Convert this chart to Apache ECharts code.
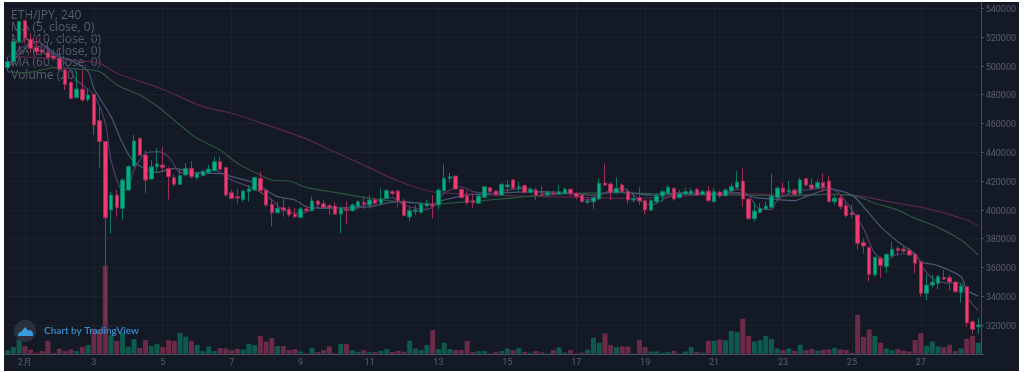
<!DOCTYPE html>
<html>
<head>
<meta charset="utf-8">
<script src="https://cdn.jsdelivr.net/npm/echarts@6/dist/echarts.min.js"></script>
<style>
  html, body { margin: 0; background: #fff; }
  #chart { position: absolute; left: 4px; top: 2px; width: 1015px; height: 369px; }
</style>
</head>
<body>
<div id="chart"></div>
<script>
// 4h bars, [open, close, low, high]
const ohlc = [
  [498700,502900,496600,506300],[502900,516800,499400,519100],[516800,530700,515600,531300],[531300,519100,515600,531800],
  [518400,512100,508700,522500],[512600,509800,507500,520200],[511000,509400,507500,515600],[509400,505700,504500,515600],
  [506800,505200,502900,511000],[505200,497500,496600,512100],[497100,487100,483200,498200],[488500,477200,476900,489000],
  [477900,483900,477400,495900],[483700,476300,475100,497100],[476700,479700,475100,484400],[480200,458900,451900,480200],
  [461900,447500,429200,471600],[447500,394500,321100,447500],[399800,410200,383600,412500],[410200,401400,395200,413700],
  [401000,420700,393300,422000],[413700,429900,413000,431000],[430400,447800,429900,451900],[449600,438000,437500,450000],
  [438000,420700,411700,441500],[421400,429900,420700,434600],[429900,431800,426500,442700],[431100,429500,427600,443800],
  [428600,423000,407200,429900],[422300,417700,416100,424200],[417700,423700,417200,428800],[424200,428800,423000,432300],
  [428800,423000,421800,433900],[422300,425300,420700,426500],[423700,426700,423000,427500],[426000,428300,425300,431100],
  [427200,433400,426500,436900],[433400,428100,427600,436900],[429300,410200,409100,430000],[411800,407900,407400,414000],
  [409100,408100,404400,414500],[407200,413000,405600,414000],[412500,414500,405600,417000],[413700,422300,413000,423000],
  [421800,413300,411400,426500],[413700,403300,402000,414200],[403800,398000,388700,407900],[398000,401000,397500,405600],
  [401400,399800,395200,407900],[400300,396400,395200,402100],[397000,395200,394000,401000],[394700,400500,394000,402100],
  [400500,399400,398200,402100],[399400,406100,398700,409100],[406100,403800,401700,406800],[404200,401700,401000,406800],
  [402800,401400,396400,403800],[402600,397000,396400,405200],[397000,401000,383600,402100],[400300,399400,390100,406100],
  [399400,403300,398700,404500],[402100,405600,401700,406800],[405200,404000,400300,409100],[403300,406800,401000,410200],
  [406800,404500,403300,408400],[404500,407500,403300,414900],[407900,413300,407500,414200],[412600,411400,410200,413700],
  [413000,406100,401700,413700],[406100,395900,395700,407900],[395000,399400,392200,402100],[398900,399800,396400,403300],
  [398200,403800,397500,405600],[402600,404500,402100,406800],[404000,402600,394000,410200],[403300,413700,400300,414900],
  [413300,421800,412600,431500],[421800,423000,418800,425800],[423400,414400,414200,423400],[414200,408400,407900,414900],
  [409600,404900,403300,413300],[406300,404900,401400,411400],[404500,409600,404000,411400],[408600,416000,408200,416500],
  [415300,412600,412100,415800],[413000,410200,409800,413700],[410200,417700,409800,418400],[416000,417200,411400,420700],
  [420700,414900,414200,421100],[414900,416000,412600,419500],[416700,412100,411400,417700],[412100,414200,411400,415600],
  [413700,410200,406800,415300],[410900,410200,409800,416500],[410200,412100,409800,413300],[411600,410900,410200,413300],
  [410900,412600,410200,417200],[411400,414200,410900,415600],[414200,411400,409600,414900],[411400,409100,407200,412600],
  [410200,405600,405200,411400],[405200,406100,403800,409100],[405600,408400,400300,410200],[407500,418400,406800,421800],
  [418600,417200,416500,432200],[417900,412100,406800,419000],[411900,414900,411400,422300],[417200,412600,411900,418400],
  [412800,406800,404000,414900],[406800,407700,404900,411400],[408400,406100,403300,415600],[406300,399800,397000,407200],
  [399800,406300,399100,407200],[405600,409800,404500,411400],[409600,412600,405600,413700],[411400,415600,410700,417200],
  [414900,407500,406300,415300],[408400,411200,407900,413700],[410900,412600,410700,415300],[411200,413000,410200,414900],
  [414000,410200,409800,415300],[410700,412600,410200,413700],[413000,406300,405600,416500],[405600,412600,405200,415300],
  [412300,409600,408400,413300],[409800,413700,409100,414900],[413000,416000,412600,418400],[415300,419300,414900,426900],
  [420000,407500,402100,428800],[407500,393800,393300,407900],[393800,399100,391700,405200],[398200,401000,397500,404500],
  [400500,402600,399800,405600],[401700,409600,401000,424800],[408400,415100,405600,416000],[415100,412100,410200,418800],
  [412600,413700,411400,420200],[413700,410700,410200,414900],[411400,420700,410200,422300],[421600,417200,416000,421800],
  [417200,414900,413700,421800],[415300,418800,414200,421100],[418800,415600,412600,425300],[420000,405600,405200,423400],
  [405600,408000,403300,410200],[408200,402100,400300,410200],[402800,395900,394500,405600],[398000,396600,394500,403300],
  [396400,376700,372500,396800],[377400,374800,369700,380200],[373900,355200,350100,374400],[354900,367000,353500,367400],
  [366300,361400,352800,367400],[360500,369000,356300,369700],[368100,372500,367000,377800],[373000,371800,367900,374800],
  [372700,371400,369700,374400],[371800,368600,367900,373700],[369300,362800,355800,369700],[363700,342000,339600,363700],
  [342000,347700,337300,355200],[347700,349800,346100,354700],[348900,353500,345000,354700],[353100,351900,351200,358200],
  [352800,349800,343800,354700],[349800,343100,342600,350800],[342400,347000,335500,348900],[346600,321600,318800,347000],
  [322300,317000,313700,323400],[318800,320000,313700,324600]
];

const volumes = [
  37,67,140,77,43,10,27,130,10,50,27,43,27,67,87,250,240,880,190,127,210,70,147,60,137,77,97,67,137,130,
  210,170,130,87,27,73,27,57,53,37,50,43,100,87,180,123,157,77,77,37,47,23,5,60,17,37,73,5,100,97,
  37,20,37,17,17,30,47,17,30,20,130,53,37,87,237,47,110,47,37,37,130,17,27,27,5,17,27,53,37,57,
  20,10,27,13,5,37,63,13,37,5,13,40,160,110,203,87,67,73,73,5,140,67,23,23,10,17,30,5,23,67,
  20,13,130,130,143,137,227,217,350,180,123,137,180,147,53,37,53,30,90,37,47,30,40,43,60,43,37,10,390,170,
  243,180,110,53,37,47,30,23,137,207,80,123,73,67,90,27,53,150,180,110
];

// moving averages, [bar index, value]
const ma5 = [
  [0,499400],[2,511000],[5,516800],[8,507500],[10,501700],[12,490100],[15,479700],[17,460000],[18,434600],[20,413700],[21,414900],
  [22,427600],[24,439200],[26,440400],[28,436900],[30,426000],[32,425300],[36,427600],[39,420700],[43,414500],[46,406800],[48,399800],
  [51,397500],[54,401700],[57,401700],[60,400300],[63,404500],[67,408400],[69,403300],[73,400300],[74,402100],[76,411400],[79,416000],
  [81,412600],[84,411400],[87,413700],[90,414900],[93,411900],[98,411400],[101,406800],[104,411900],[107,414900],[110,406800],[112,403300],
  [115,409100],[117,411900],[122,410700],[124,410200],[127,414200],[129,410200],[131,400300],[133,400300],[134,406800],[137,412600],[140,414200],
  [143,415600],[145,410200],[147,399800],[149,387100],[151,369700],[153,365100],[155,369300],[158,369300],[159,361600],[161,352400],[163,349400],
  [166,348900],[167,339600],[169,329900]
];
const ma10 = [
  [0,498000],[2,508000],[5,516800],[9,506300],[11,504000],[14,495900],[15,484400],[18,464700],[20,446200],[22,433400],[26,426000],[29,428800],
  [33,425300],[37,425300],[39,423000],[43,418800],[45,413700],[47,409100],[50,406800],[52,402100],[55,401000],[61,401700],[63,402100],[68,405600],
  [71,404900],[74,403300],[76,406800],[80,410200],[84,411000],[87,411900],[93,412600],[98,411400],[102,410200],[106,412600],[112,410200],[116,411400],
  [122,411400],[127,411900],[130,408600],[133,407500],[137,406300],[139,409100],[143,414200],[147,410200],[149,402100],[152,388300],[155,377800],[158,369300],
  [159,364000],[162,361200],[166,353500],[167,344300],[169,340100]
];
const ma30 = [
  [0,495900],[3,495200],[6,497100],[8,498700],[12,497800],[16,495900],[19,486700],[23,479700],[26,472100],[30,458900],[33,449600],[37,441500],[40,432300],
  [44,424100],[46,420700],[49,420000],[52,415600],[58,411400],[62,408600],[68,405600],[74,404000],[78,405000],[87,407900],[93,410200],[105,411900],[116,410700],
  [128,410200],[136,409600],[143,410700],[148,409100],[151,404500],[155,399800],[158,394000],[162,387800],[166,379000],[169,368600]
];
const ma60 = [
  [0,506800],[2,506300],[12,503600],[16,501700],[19,494800],[27,483700],[34,471600],[39,467000],[44,460500],[52,449200],[56,441900],[62,431000],[68,420000],
  [74,412500],[80,411000],[90,409500],[100,408600],[110,408000],[120,410200],[130,411000],[136,410200],[143,410900],[148,409800],[154,405200],[160,401000],
  [167,392900],[169,388700]
];

// date labels, one every 12 bars starting at 2/1 00:00
const dayLabels = ['2月','3','5','7','9','11','13','15','17','19','21','23','25','27'];
const categories = ohlc.map((_, i) => ((i - 3) % 12 === 0 && i >= 3 ? dayLabels[(i - 3) / 12] : ''));
const legendLines = ['ETH/JPY, 240','MA (5, close, 0)','MA (10, close, 0)','MA (30, close, 0)','MA (60, close, 0)','Volume (20)'];

const bg = '#131a26';
const gridColor = '#1b212d';
const axisColor = '#4a4e59';
const labelColor = '#5a5e68';
const upColor = '#03ad85';
const downColor = '#f03a72';

function maSeries(name, data, color) {
  return {
    name, type: 'line', data, smooth: 0.3, showSymbol: false, silent: true, z: 4,
    lineStyle: { color, width: 1.2 },
  };
}

const chart = echarts.init(document.getElementById('chart'), null, { renderer: 'canvas' });
chart.setOption({
  animation: false,
  backgroundColor: bg,
  grid: { left: 0.8, top: 0.4, width: 981, height: 351.4 },
  xAxis: {
    type: 'category',
    data: categories,
    axisLine: { lineStyle: { color: axisColor } },
    axisTick: { alignWithLabel: true, length: 3, interval: (i, v) => v !== '', lineStyle: { color: axisColor } },
    axisLabel: { interval: (i, v) => v !== '', color: labelColor, fontFamily: 'Roboto', fontSize: 9, margin: 4 },
    splitLine: { show: true, alignWithLabel: true, interval: (i, v) => v !== '', lineStyle: { color: gridColor } },
  },
  yAxis: [
    {
      type: 'value',
      position: 'right',
      min: 300000,
      max: 544000,
      interval: 20000,
      axisLine: { show: true, lineStyle: { color: axisColor } },
      axisTick: { show: true, length: 3, lineStyle: { color: axisColor } },
      axisLabel: {
        color: labelColor, fontFamily: 'Roboto', fontSize: 9, margin: 4.5,
        verticalAlign: 'top', lineHeight: 3,
        formatter: (v) => (v < 320000 ? '' : String(v)),
      },
      splitLine: { show: true, lineStyle: { color: gridColor } },
    },
    { type: 'value', show: false, min: 0, max: 3514 },
  ],
  graphic: [
    {
      type: 'group', z: 1, silent: true,
      children: legendLines.map((t, i) => ({
        type: 'text', x: 7, y: [13.7, 26, 38, 50, 61, 74][i],
        style: { text: t, fill: '#595e6a', font: '12px "Open Sans"', textVerticalAlign: 'middle' },
      })),
    },
    { type: 'circle', z: 20, silent: true, shape: { cx: 21, cy: 329, r: 11 }, style: { fill: '#2a303c' } },
    {
      type: 'polygon', z: 21, silent: true,
      shape: { points: [[14, 334], [14.5, 331], [18, 329], [21, 325], [24.5, 329], [26, 327.5], [29, 331], [29, 334]] },
      style: { fill: '#3a9ade' },
    },
    {
      type: 'text', z: 21, silent: true, x: 40, y: 329,
      style: { text: 'Chart by TradingView', fill: '#3a8ccc', font: '600 10px Lato', textVerticalAlign: 'middle' },
    },
  ],
  series: [
    {
      name: 'Volume',
      type: 'bar',
      yAxisIndex: 1,
      barWidth: 5,
      z: 2,
      silent: true,
      data: volumes.map((v, i) => ({
        value: v,
        itemStyle: { color: ohlc[i][1] >= ohlc[i][0] ? '#0e5a4f' : '#6b2b47' },
      })),
    },
    maSeries('MA 60', ma60, '#5c254b'),
    maSeries('MA 30', ma30, '#2c553f'),
    maSeries('MA 10', ma10, '#475872'),
    maSeries('MA 5', ma5, '#533b6d'),
    {
      name: 'ETH/JPY',
      type: 'candlestick',
      barWidth: 4,
      z: 5,
      silent: true,
      data: ohlc,
      itemStyle: {
        color: upColor,
        color0: downColor,
        borderColor: '#0b7a63',
        borderColor0: '#9c2d55',
        borderWidth: 1,
      },
    },
  ],
});
window.addEventListener('resize', () => chart.resize());
</script>
</body>
</html>
